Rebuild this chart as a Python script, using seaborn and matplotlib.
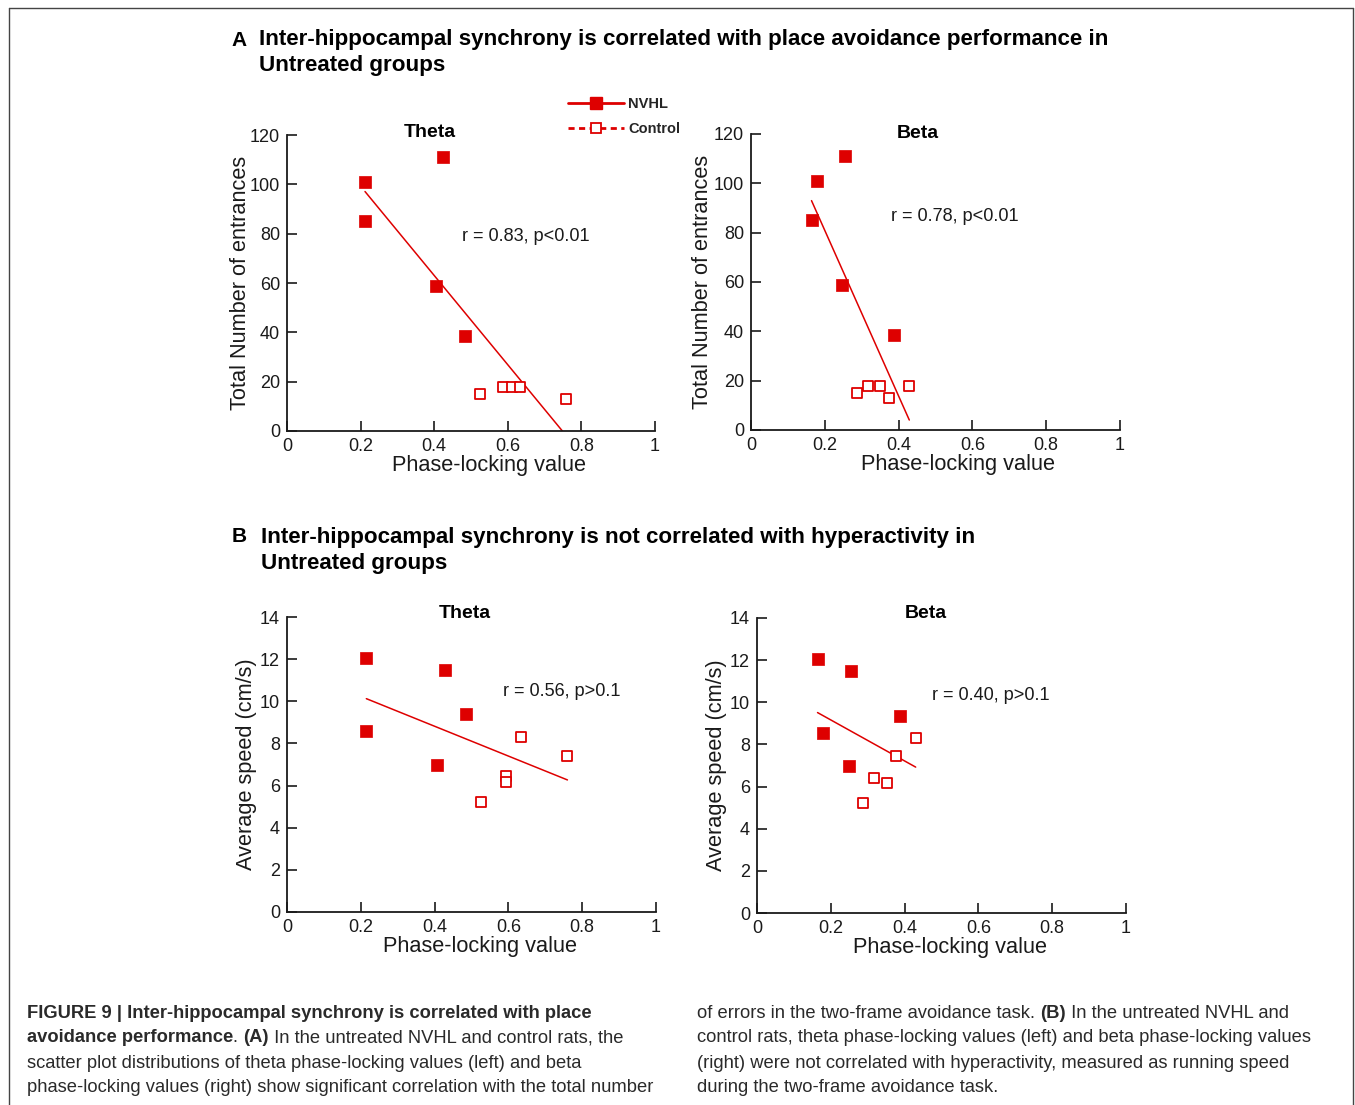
import numpy as np
import pandas as pd
import matplotlib
matplotlib.use('Agg')
import matplotlib.pyplot as plt
import seaborn as sns
from matplotlib.lines import Line2D

RED = '#DE0000'
INK = '#1a1a1a'

# Panel A: total number of entrances vs phase-locking value
nvhl_entr = [101, 85, 111, 58.6, 38.5]
ctrl_entr = [15, 18, 18, 18, 13]
nvhl_theta_a = [0.212, 0.212, 0.425, 0.405, 0.484]
ctrl_theta_a = [0.524, 0.588, 0.611, 0.634, 0.758]
nvhl_beta_a = [0.180, 0.164, 0.255, 0.247, 0.388]
ctrl_beta_a = [0.288, 0.316, 0.350, 0.429, 0.375]

# Panel B: average speed vs phase-locking value
nvhl_speed_theta = [12.07, 8.58, 11.5, 9.38, 6.98]
nvhl_theta_b = [0.215, 0.215, 0.427, 0.485, 0.406]
ctrl_speed_theta = [8.31, 7.42, 6.46, 6.17, 5.24]
ctrl_theta_b = [0.634, 0.760, 0.593, 0.593, 0.526]
nvhl_speed_beta = [12.05, 8.54, 11.47, 9.36, 6.96]
nvhl_beta_b = [0.164, 0.180, 0.255, 0.388, 0.248]
ctrl_speed_beta = [8.29, 7.43, 6.41, 6.17, 5.23]
ctrl_beta_b = [0.430, 0.376, 0.318, 0.351, 0.288]

x_ticks = [0, 0.2, 0.4, 0.6, 0.8, 1]
x_tick_labels = ['0', '0.2', '0.4', '0.6', '0.8', '1']
entr_ticks = [0, 20, 40, 60, 80, 100, 120]
speed_ticks = [0, 2, 4, 6, 8, 10, 12, 14]

stats = ['r = 0.83, p<0.01', 'r = 0.78, p<0.01', 'r = 0.56, p>0.1', 'r = 0.40, p>0.1']

sns.set_style('ticks')
plt.rcParams['font.family'] = ['Liberation Sans', 'DejaVu Sans']

W, H = 1355, 1105
fig = plt.figure(figsize=(W / 100, H / 100), dpi=100)


def ax_at(left, top, right, bottom):
    return fig.add_axes([left / W, 1 - bottom / H, (right - left) / W, (bottom - top) / H])


def draw_panel(ax, nx, ny, cx, cy, ymax, yticks, ylabel, ypad, xlab_x, title, tpos, stat, spos):
    df = pd.DataFrame({'plv': nx + cx, 'val': ny + cy,
                       'group': ['NVHL'] * len(nx) + ['Control'] * len(cx)})
    sns.regplot(data=df, x='plv', y='val', ax=ax, scatter=False, ci=None,
                color=RED, line_kws={'lw': 1.1, 'zorder': 2})
    sns.scatterplot(data=df[df.group == 'NVHL'], x='plv', y='val', ax=ax,
                    marker='s', s=85, color=RED, edgecolor=RED, linewidth=0.5, zorder=3)
    sns.scatterplot(data=df[df.group == 'Control'], x='plv', y='val', ax=ax,
                    marker='s', s=55, color='white', edgecolor=RED, linewidth=1.3, zorder=3)
    ax.set_xlim(0, 1)
    ax.set_ylim(0, ymax)
    ax.set_xticks(x_ticks)
    ax.set_xticklabels(x_tick_labels)
    ax.set_yticks(yticks)
    ax.set_xlabel('Phase-locking value', fontsize=15.7, labelpad=0, color=INK)
    ax.xaxis.label.set_x(xlab_x)
    ax.set_ylabel(ylabel, fontsize=15.7, labelpad=ypad, color=INK)
    ax.tick_params(direction='in', length=7, width=1.2, labelsize=13, pad=5, colors=INK)
    sns.despine(ax=ax)
    for s in ['left', 'bottom']:
        ax.spines[s].set_linewidth(1.3)
        ax.spines[s].set_color(INK)
    ax.text(tpos[0], tpos[1], title, transform=ax.transAxes, fontsize=14,
            fontweight='bold', ha='center', va='center', color='black')
    ax.text(spos[0], spos[1], stat, transform=ax.transAxes, fontsize=13.1,
            ha='left', va='center', color=INK)


ax1 = ax_at(287, 135, 655, 431)
draw_panel(ax1, nvhl_theta_a, nvhl_entr, ctrl_theta_a, ctrl_entr, 120, entr_ticks,
           'Total Number of entrances', -1, 0.55, 'Theta', (0.389, 1.01), stats[0], (0.476, 0.658))
ax2 = ax_at(751, 134, 1120, 430)
draw_panel(ax2, nvhl_beta_a, nvhl_entr, ctrl_beta_a, ctrl_entr, 120, entr_ticks,
           'Total Number of entrances', 0.5, 0.56, 'Beta', (0.453, 1.0), stats[1], (0.379, 0.72))
ax3 = ax_at(287, 617, 656, 912)
draw_panel(ax3, nvhl_theta_b, nvhl_speed_theta, ctrl_theta_b, ctrl_speed_theta, 14, speed_ticks,
           'Average speed (cm/s)', 2, 0.522, 'Theta', (0.482, 1.013), stats[2], (0.585, 0.748))
ax4 = ax_at(757, 618, 1126, 913)
draw_panel(ax4, nvhl_beta_b, nvhl_speed_beta, ctrl_beta_b, ctrl_speed_beta, 14, speed_ticks,
           'Average speed (cm/s)', 2, 0.522, 'Beta', (0.458, 1.015), stats[3], (0.474, 0.737))

# legend
handles = [Line2D([], [], color=RED, lw=2, marker='s', markersize=8),
           Line2D([], [], color=RED, lw=2, ls=(0, (2.2, 1.6)), marker='s', markersize=7,
                  markerfacecolor='white', markeredgewidth=1.3)]
leg = fig.legend(handles, ['NVHL', 'Control'], loc='upper left',
                 bbox_to_anchor=(555 / W, 1 - 84 / H), frameon=False,
                 handlelength=3.8, handletextpad=0.3, labelspacing=0.75,
                 prop={'weight': 'bold', 'size': 10.5})

# panel headers
fig.text(239 / W, 1 - 40 / H, 'A', fontsize=15, fontweight='bold', ha='center', va='center', color='black')
fig.text(259 / W, 1 - 40 / H, 'Inter-hippocampal synchrony is correlated with place avoidance performance in',
         fontsize=16.1, fontweight='bold', ha='left', va='center', color='black')
fig.text(259 / W, 1 - 66 / H, 'Untreated groups', fontsize=16.1, fontweight='bold', ha='left', va='center',
         color='black')
fig.text(239 / W, 1 - 537 / H, 'B', fontsize=15, fontweight='bold', ha='center', va='center', color='black')
fig.text(261 / W, 1 - 537 / H, 'Inter-hippocampal synchrony is not correlated with hyperactivity in',
         fontsize=16.1, fontweight='bold', ha='left', va='center', color='black')
fig.text(261 / W, 1 - 563 / H, 'Untreated groups', fontsize=16.1, fontweight='bold', ha='left', va='center',
         color='black')

# outer frame
for xs, ys in [([9, 9], [8, H]), ([9, 1353], [8, 8]), ([1353, 1353], [8, H])]:
    fig.add_artist(Line2D([x / W for x in xs], [1 - y / H for y in ys], color='#444444', lw=1.0))

# caption with mixed weights
caption_left = [
    [('FIGURE 9 | Inter-hippocampal synchrony is correlated with place', 'bold')],
    [('avoidance performance', 'bold'), ('. ', 'normal'), ('(A)', 'bold'),
     (' In the untreated NVHL and control rats, the', 'normal')],
    [('scatter plot distributions of theta phase-locking values (left) and beta', 'normal')],
    [('phase-locking values (right) show significant correlation with the total number', 'normal')],
]
caption_right = [
    [('of errors in the two-frame avoidance task. ', 'normal'), ('(B)', 'bold'),
     (' In the untreated NVHL and', 'normal')],
    [('control rats, theta phase-locking values (left) and beta phase-locking values', 'normal')],
    [('(right) were not correlated with hyperactivity, measured as running speed', 'normal')],
    [('during the two-frame avoidance task.', 'normal')],
]
line_y = [1013, 1038, 1063, 1088]
renderer = fig.canvas.get_renderer()
for x0, block in [(27, caption_left), (697, caption_right)]:
    for y, parts in zip(line_y, block):
        x = x0
        for txt, wt in parts:
            t = fig.text(x / W, 1 - y / H, txt, fontsize=13.2, fontweight=wt,
                         ha='left', va='center', color='#2a2a2a')
            bb = t.get_window_extent(renderer=renderer)
            x = bb.x1

fig.savefig('out.png', dpi=100)
